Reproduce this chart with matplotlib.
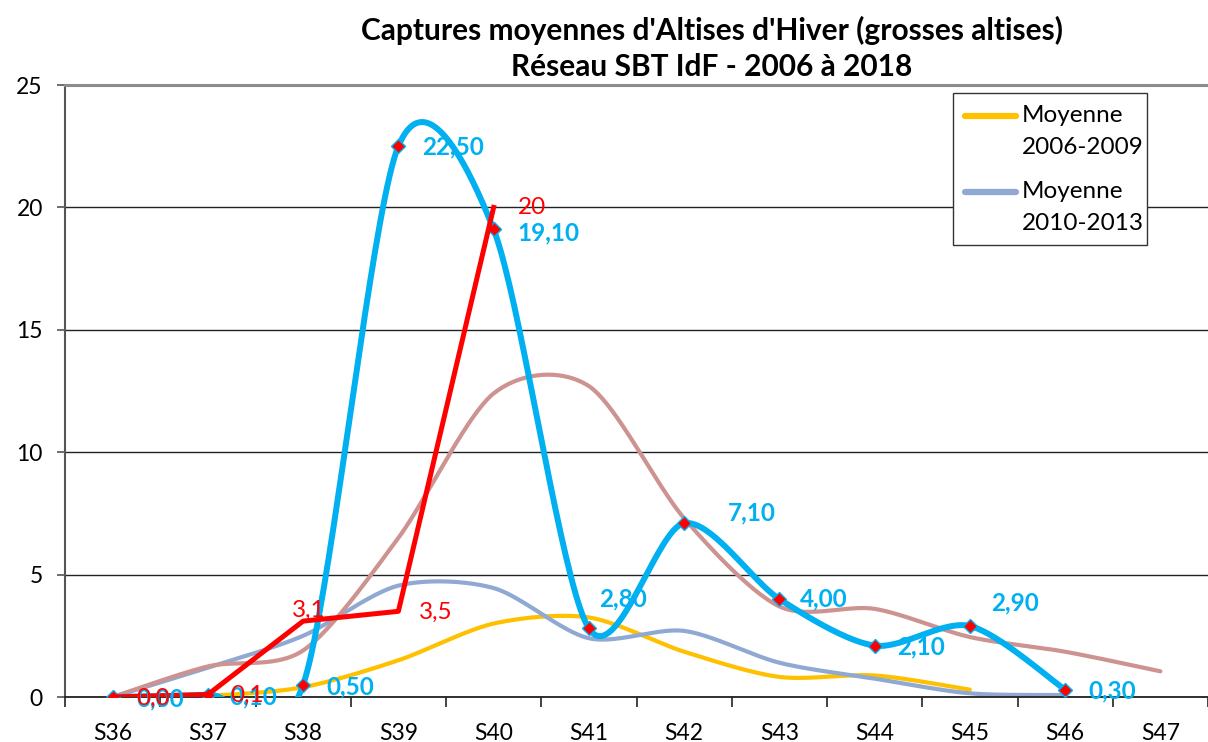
import matplotlib
matplotlib.use("Agg")
import matplotlib.pyplot as plt
import numpy as np
from matplotlib.lines import Line2D
from matplotlib.patches import Rectangle

plt.rcParams["font.family"] = ["Lato", "DejaVu Sans"]

weeks = ["S36", "S37", "S38", "S39", "S40", "S41", "S42", "S43", "S44", "S45", "S46", "S47"]

moy_2006_2009 = [0.0, 0.05, 0.4, 1.5, 3.0, 3.25, 1.85, 0.82, 0.88, 0.3]
moy_2010_2013 = [0.0, 1.2, 2.5, 4.55, 4.45, 2.4, 2.7, 1.4, 0.75, 0.15, 0.08]
moy_autre = [0.0, 1.25, 1.9, 6.5, 12.4, 12.7, 7.3, 3.7, 3.6, 2.45, 1.85, 1.05]
serie_2017 = [0.0, 0.10, 0.50, 22.50, 19.10, 2.80, 7.10, 4.00, 2.10, 2.90, 0.30]
serie_2018 = [0.0, 0.1, 3.1, 3.5, 20.0]

labels_2017 = ["0,00", "0,10", "0,50", "22,50", "19,10", "2,80", "7,10", "4,00", "2,10", "2,90", "0,30"]
labels_2018 = ["0,0", "0,1", "3,1", "3,5", "20"]

legend_labels = ["Moyenne\n2006-2009", "Moyenne\n2010-2013"]

YELLOW = "#FFC000"
BLUEGREY = "#8FA9D3"
PINK = "#CD9391"
CYAN = "#00B0F0"
RED = "#FF0000"


def smooth(ys, n=40):
    """Excel-like smoothed line (Catmull-Rom as cubic Bezier)."""
    pts = np.column_stack([np.arange(len(ys), dtype=float), np.asarray(ys, dtype=float)])
    t = np.linspace(0, 1, n)[:, None]
    out = []
    for i in range(len(pts) - 1):
        p0 = pts[max(i - 1, 0)]
        p1 = pts[i]
        p2 = pts[i + 1]
        p3 = pts[min(i + 2, len(pts) - 1)]
        c1 = p1 + (p2 - p0) / 7
        c2 = p2 - (p3 - p1) / 7
        seg = (1 - t) ** 3 * p1 + 3 * (1 - t) ** 2 * t * c1 + 3 * (1 - t) * t ** 2 * c2 + t ** 3 * p2
        out.append(seg if i == 0 else seg[1:])
    s = np.vstack(out)
    return s[:, 0], s[:, 1]


fig = plt.figure(figsize=(12.08, 7.42), dpi=100)
ax = fig.add_axes([65 / 1208, 1 - 697 / 742, 1 - 65 / 1208, (697 - 85) / 742])

for ys, col, lw, z in [
    (moy_2006_2009, YELLOW, 3.0, 2.0),
    (moy_2010_2013, BLUEGREY, 3.0, 2.1),
    (moy_autre, PINK, 3.0, 2.2),
]:
    sx, sy = smooth(ys)
    ax.plot(sx, sy, color=col, lw=lw, zorder=z, solid_capstyle="round")

sx, sy = smooth(serie_2017)
ax.plot(sx, sy, color=CYAN, lw=4.3, zorder=3, solid_capstyle="round")
x17 = np.arange(len(serie_2017))
ax.plot(x17, serie_2017, linestyle="none", marker="D", ms=7, mfc=RED, mec=CYAN, mew=1.0, zorder=3.5)

x18 = np.arange(len(serie_2018))
ax.plot(x18, serie_2018, color=RED, lw=3.6, zorder=4)

# data labels (offsets in pixels)
off17 = [(24, -2), (22, -2), (23, -2), (24, -1), (24, -3), (10, 30), (44, 10), (21, 0), (22, -1), (21, 23), (23, -1)]
for x, y, txt, (dx, dy) in zip(x17, serie_2017, labels_2017, off17):
    ax.annotate(txt, (x, y), xytext=(dx, dy), textcoords="offset pixels", ha="left", va="center",
                color=CYAN, fontsize=17.5, fontweight="bold", zorder=6, annotation_clip=False)

off18 = [(24, -1), (22, -1), (-11, 11), (21, -1), (24, 0)]
for x, y, txt, (dx, dy) in zip(x18, serie_2018, labels_2018, off18):
    ax.annotate(txt, (x, y), xytext=(dx, dy), textcoords="offset pixels", ha="left", va="center",
                color=RED, fontsize=17.5, zorder=7, annotation_clip=False)

ax.set_xlim(-0.5, 11.38)
ax.set_ylim(0, 25)
ax.set_yticks(np.arange(0, 26, 5))
ax.tick_params(axis="y", length=6, width=1.2, pad=10, labelsize=16.5, color="#555555")
ax.set_xticks(np.arange(-0.5, 12, 1.0))
ax.set_xticklabels([])
ax.set_xticks(np.arange(len(weeks)), minor=True)
ax.set_xticklabels(weeks, minor=True)
ax.tick_params(axis="x", which="major", length=7, width=1.2, color="#222222")
ax.tick_params(axis="x", which="minor", length=0, pad=19, labelsize=16.5)

ax.yaxis.grid(True, color="#222222", lw=1.0)
ax.set_axisbelow(True)
ax.spines["right"].set_visible(False)
ax.spines["top"].set_color("#8C8C8C")
ax.spines["top"].set_linewidth(2.2)
ax.spines["left"].set_color("#555555")
ax.spines["left"].set_linewidth(1.5)
ax.spines["bottom"].set_color("#222222")
ax.spines["bottom"].set_linewidth(1.3)

# title
fig.text(712 / 1208, 1 - 30 / 742, "Captures moyennes d'Altises d'Hiver (grosses altises)",
         ha="center", va="center", fontsize=21.5, fontweight="bold")
fig.text(712 / 1208, 1 - 67 / 742, "Réseau SBT IdF - 2006 à 2018",
         ha="center", va="center", fontsize=21.5, fontweight="bold")

# legend drawn like the Excel box
W, H = 1208, 742
fig.add_artist(Rectangle((953 / W, 1 - 245 / H), (1147 - 953) / W, (245 - 93) / H,
                         transform=fig.transFigure, facecolor="white", edgecolor="#333333",
                         lw=1.0, zorder=10))
for col, lab, ytop in [(YELLOW, legend_labels[0], 116), (BLUEGREY, legend_labels[1], 192)]:
    fig.add_artist(Line2D([965 / W, 1016 / W], [1 - ytop / H, 1 - ytop / H], color=col, lw=4.5,
                          solid_capstyle="round", transform=fig.transFigure, zorder=11))
    first, second = lab.split("\n")
    fig.text(1022 / W, 1 - ytop / H, first, ha="left", va="center", fontsize=17.5, zorder=12)
    fig.text(1022 / W, 1 - (ytop + 31) / H, second, ha="left", va="center", fontsize=17.5, zorder=12)

fig.savefig("out.png", dpi=100)
